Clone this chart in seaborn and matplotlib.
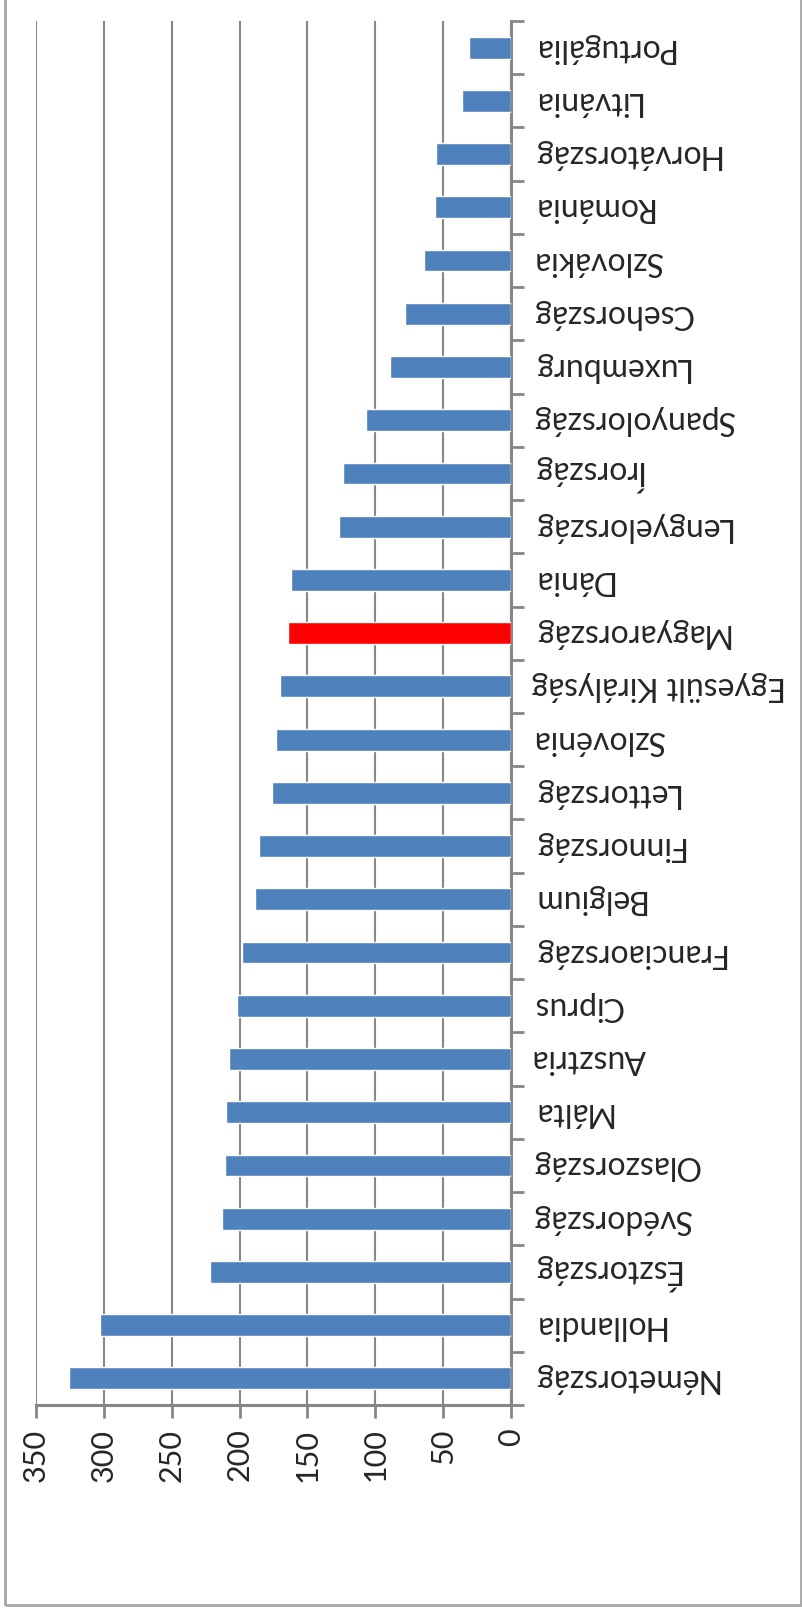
import matplotlib
matplotlib.use("Agg")
import matplotlib.pyplot as plt
from matplotlib.patches import Rectangle
import numpy as np
import pandas as pd
import seaborn as sns

# countries, top to bottom as they appear in the (rotated) picture
countries = ['Portugália', 'Litvánia', 'Horvátország', 'Románia', 'Szlovákia',
             'Csehország', 'Luxemburg', 'Spanyolország', 'Írország', 'Lengyelország',
             'Dánia', 'Magyarország', 'Egyesült Királyság', 'Szlovénia', 'Lettország',
             'Finnország', 'Belgium', 'Franciaország', 'Ciprus', 'Ausztria',
             'Málta', 'Olaszország', 'Svédország', 'Észtország', 'Hollandia',
             'Németország']
values = [31, 36, 55, 56, 64, 78, 89, 107, 124, 127,
          162, 164, 170, 173, 176, 186, 189, 198, 202, 208,
          210, 211, 213, 222, 303, 326]
highlight = 'Magyarország'
xticks = [0, 50, 100, 150, 200, 250, 300, 350]

df = pd.DataFrame({'country': countries, 'value': values})
palette = {c: ('#FF0000' if c == highlight else '#4F81BD') for c in countries}

sns.set_style('white')
plt.rcParams['font.family'] = ['Lato', 'DejaVu Sans']

fig = plt.figure(figsize=(8.03, 16.16), dpi=100)
ax = fig.add_axes([36 / 803, 1 - 1405 / 1616, (511 - 36) / 803, (1405 - 21) / 1616])

sns.barplot(data=df, x='value', y='country', hue='country', palette=palette,
            order=countries, hue_order=countries, width=0.41, legend=False,
            saturation=1, ax=ax, zorder=3)

grid_c = '#878787'
ax.set_xlim(350, 0)
ax.set_xticks(xticks)
ax.set_xticklabels([str(t) for t in xticks], rotation=90)
ax.xaxis.grid(True, color=grid_c, linewidth=1.5, zorder=0)
ax.yaxis.grid(False)
ax.set_xlabel('')
ax.set_ylabel('')

ax.yaxis.tick_right()
ax.set_yticks(np.arange(-0.5, len(countries), 1), minor=True)
ax.tick_params(axis='y', which='major', length=0, pad=15, labelsize=23,
               labelrotation=180)
ax.tick_params(axis='y', which='minor', length=9, width=2, color=grid_c, right=True, left=False)
ax.tick_params(axis='x', which='major', length=9, width=2, color=grid_c, pad=8,
               labelsize=22, bottom=True)
for lab in ax.get_yticklabels():
    lab.set_va('center')
    lab.set_ha('left')

for s in ['left', 'top']:
    ax.spines[s].set_visible(False)
for s in ['right', 'bottom']:
    ax.spines[s].set_color(grid_c)
    ax.spines[s].set_linewidth(2.2)

# outer chart border
fig.patches.append(Rectangle((5 / 803, 1 - 1605 / 1616), 796 / 803, 1.2,
                             transform=fig.transFigure, fill=False,
                             edgecolor='#a6a6a6', linewidth=2))

fig.savefig('out.png', dpi=100)
